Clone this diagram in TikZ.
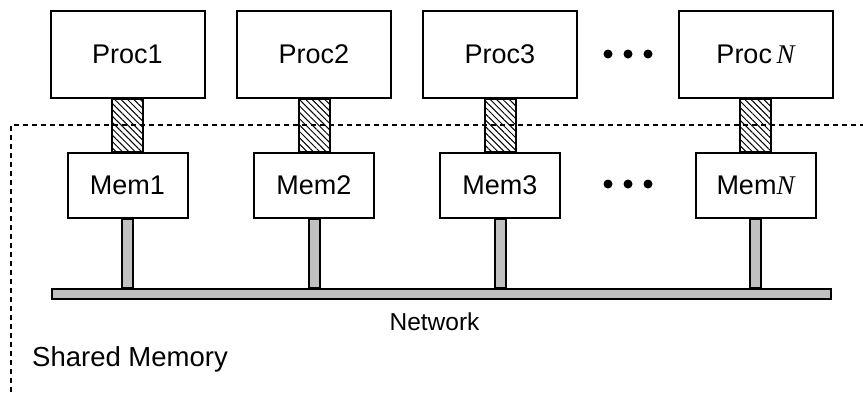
\documentclass[tikz,border=0pt]{standalone}
\usepackage{fontspec}
\setmainfont{Liberation Sans}
\newfontfamily\serifit{Liberation Serif}[ItalicFont=* Italic]
\usepackage{tikz}
\usetikzlibrary{calc}
\usetikzlibrary{patterns.meta}
\definecolor{busgray}{RGB}{192,192,192}
\newcommand{\Nit}{{\serifit\itshape N}}
\newcommand{\widthproc}{154}
\newcommand{\widthmem}{120}
\tikzset{
    common/.style={draw, rectangle, line width=2pt, inner sep=0pt, font=\fontsize{27}{32}\selectfont},
    proc/.style={common, minimum width=\widthproc, minimum height=87},
    mem/.style={common, minimum width=\widthmem, minimum height=65},
    bus/.style={draw, rectangle, line width=2pt, fill=busgray, minimum width=779, minimum height=10, inner sep=0pt},
    stem/.style={draw, line width=2pt, fill=busgray},
    hatch/.style={draw, line width=2pt, pattern={Lines[angle=-45, distance=4.5pt, line width=1pt]}},
    dot/.style={circle, fill=black, minimum size=9, inner sep=0pt},
    region/.style={line width=1.6pt, dash pattern=on 5pt off 4pt}
}

\begin{document}
\begin{tikzpicture}[x=1pt, y=-1pt]
                \useasboundingbox (0,0) rectangle (863,392);

                \path
                    (127.5,54) node[proc] (p1) {Proc1}
                    ++(186.5,0) node[proc] (p2) {Proc2}
                    ++(186,0) node[proc] (p3) {Proc3}
                    ++(255.5,0) node[proc] (pN) {Proc\,\Nit};

                \path
                    (127.5,185) node[mem] (m1) {Mem1}
                    ++(186.5,0) node[mem] (m2) {Mem2}
                    ++(186,0) node[mem] (m3) {Mem3}
                    ++(255.5,0) node[mem] (mN) {Mem\Nit};

                \path (441,293.5) node[bus] (bus) {};

                \foreach \x in {608,628,648} {
                    \node[dot] (pd\x) at (\x,54) {};
                    \node[dot] (md\x) at (\x,184) {};
                }

                \draw[region] (11,392) -- (11,125) -- (863,125);

                \foreach \n in {1,2,3,N} {
                    \path[hatch] ($(p\n.south)+(-15.5,0)$) rectangle ($(m\n.north)+(15.5,0)$);
                    \path[stem] ($(m\n.south)+(-5.5,0)$) rectangle ($(m\n.south |- bus.north)+(5.5,0)$);
                }

                \node[font=\fontsize{24.5}{29}\selectfont] (net) at (434.5,322) {Network};
                \node[anchor=west, inner sep=0pt, font=\fontsize{27.5}{32}\selectfont] (shm) at (32,359) {Shared Memory};
            \end{tikzpicture}
\end{document}
